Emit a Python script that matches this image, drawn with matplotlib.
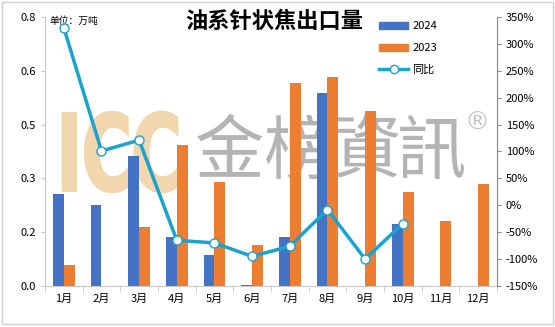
import numpy as np
import matplotlib.pyplot as plt
from matplotlib.patches import Rectangle, PathPatch
from matplotlib.lines import Line2D
from matplotlib.textpath import TextPath
from matplotlib.font_manager import FontProperties
from matplotlib.transforms import Affine2D
from matplotlib.ticker import FixedLocator, FuncFormatter

plt.rcParams['font.family'] = ['Noto Sans CJK SC', 'DejaVu Sans']

months = ['1月', '2月', '3月', '4月', '5月', '6月', '7月', '8月', '9月', '10月', '11月', '12月']
v2024 = [0.273, 0.240, 0.387, 0.145, 0.092, 0.003, 0.145, 0.575, 0.0, 0.184, np.nan, np.nan]
v2023 = [0.062, 0.0, 0.175, 0.418, 0.308, 0.121, 0.604, 0.622, 0.521, 0.281, 0.193, 0.302]
yoy = [330, 101, 121, -65, -70, -95, -76, -8, -100, -34]  # 同比 %

c24 = '#4472C4'
c23 = '#ED7D31'
cline = '#1AA3CF'

fig = plt.figure(figsize=(5.55, 3.27), dpi=100)
fig.patches.append(Rectangle((0.004, 0.008), 0.992, 0.986, transform=fig.transFigure,
                             fill=False, edgecolor='#d0d0d0', linewidth=1))

ax = fig.add_axes([0.081, 0.1254, 0.8144, 0.8226])
ax.set_zorder(2)
ax.patch.set_alpha(0)
x = np.arange(len(months))
w = 0.29

# watermark (pixel coords, origin bottom-left), drawn under the axes
tp = TextPath((0, 0), 'ICC', size=100, prop=FontProperties(family='DejaVu Sans', weight='bold'))
ext = tp.get_extents()
sx = 114 / ext.width
sy = 80 / ext.height
tr = Affine2D().translate(-ext.x0, -ext.y0).scale(sx, sy).translate(63, 135)
fig.patches.append(PathPatch(tr.transform_path(tp), facecolor='#F2D6AE', edgecolor='#F2D6AE',
                             linewidth=2, transform=None, zorder=0))
for ch, cx in zip('金榜資訊', [230, 298, 366, 432]):
    fig.text(cx / 555, 174 / 327, ch, fontsize=50, color='#B4B4B4',
             family='Noto Sans CJK TC', ha='center', va='center', zorder=0)
fig.text(477 / 555, 204 / 327, '®', fontsize=18, color='#C4C4C4',
         family='DejaVu Sans', ha='center', va='center', zorder=0)

ax.bar(x - w / 2, v2024, w, color=c24, zorder=2)
ax.bar(x + w / 2, v2023, w, color=c23, zorder=2)

ax.set_xlim(-0.5, 11.5)
ax.set_ylim(0, 0.8)
ax.yaxis.set_major_locator(FixedLocator(np.linspace(0, 0.8, 6)))
ax.yaxis.set_major_formatter(FuncFormatter(lambda v, p: f'{v:.1f}'))
ax.set_xticks(x)
ax.set_xticklabels(months)
ax.xaxis.set_minor_locator(FixedLocator(np.arange(-0.5, 12, 1)))
ax.tick_params(axis='x', which='major', length=0, labelsize=8, pad=6)
ax.tick_params(axis='x', which='minor', length=4, color='#c8c8c8')
ax.tick_params(axis='y', length=3, color='#c8c8c8', labelsize=8)
for s in ['top', 'right']:
    ax.spines[s].set_visible(False)
ax.spines['left'].set_color('#c8c8c8')
ax.spines['bottom'].set_color('#c8c8c8')

ax2 = ax.twinx()
ax2.set_zorder(3)
ax2.patch.set_alpha(0)
ax2.plot(x[:len(yoy)], yoy, color=cline, linewidth=2.5, marker='o', markersize=6.5,
         markerfacecolor='white', markeredgecolor=cline, markeredgewidth=1, zorder=3)
ax2.set_ylim(-150, 350)
ax2.set_yticks(np.arange(-150, 351, 50))
ax2.yaxis.set_major_formatter(FuncFormatter(lambda v, p: f'{v:.0f}%'))
ax2.tick_params(axis='y', length=3, color='#888888', labelsize=8)
for s in ['top', 'left', 'bottom']:
    ax2.spines[s].set_visible(False)
ax2.spines['right'].set_color('#888888')

fig.text(0.494, 0.935, '油系针状焦出口量', fontsize=16, fontweight='bold', ha='center', va='center')
ax.text(0.01, 0.985, '单位：万吨', transform=ax.transAxes, fontsize=7, ha='left', va='center')

handles = [Rectangle((0, 0), 1, 1, color=c24), Rectangle((0, 0), 1, 1, color=c23),
           Line2D([], [], color=cline, linewidth=2.5, marker='o', markersize=6,
                  markerfacecolor='white', markeredgecolor=cline)]
leg = fig.legend(handles, ['2024', '2023', '同比'], loc='upper left', bbox_to_anchor=(0.665, 0.965),
                 frameon=False, fontsize=8, handlelength=2.6, handleheight=0.6, labelspacing=1.05,
                 handletextpad=0.4)
leg.set_zorder(5)

fig.savefig('out.png', dpi=100)
